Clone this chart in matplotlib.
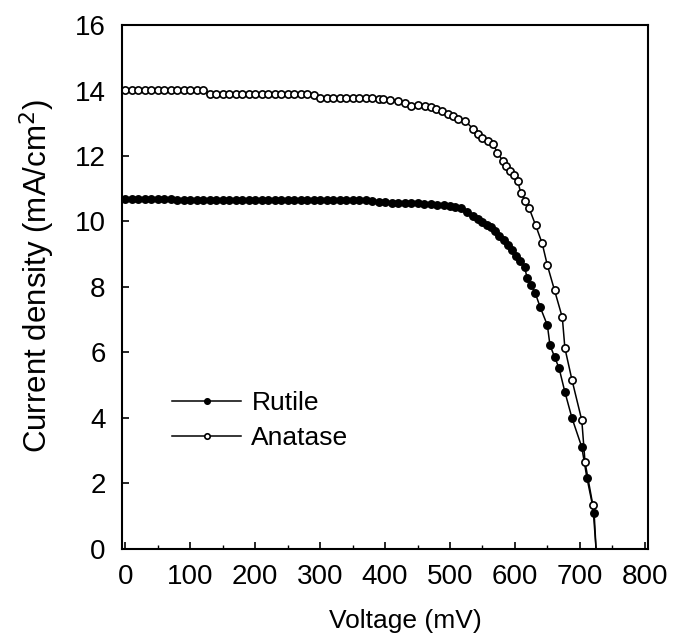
import matplotlib
matplotlib.use('Agg')
import matplotlib.pyplot as plt
from matplotlib.ticker import MultipleLocator

plt.rcParams['font.family'] = ['Liberation Sans', 'DejaVu Sans']

# J-V data (mV, mA/cm2)
rutile_v = [0, 10, 20, 30, 40, 50, 60, 70, 80, 90, 100, 110, 120, 130, 140, 150,
            160, 170, 180, 190, 200, 210, 220, 230, 240, 250, 260, 270, 280, 290,
            300, 310, 320, 330, 340, 350, 360, 370, 380, 390, 400, 410, 420, 430,
            440, 450, 460, 470, 480, 490, 500, 508, 517, 526, 535, 543, 550, 557,
            563, 570, 576, 583, 589, 595, 601, 608, 615, 619, 625, 631, 639, 650,
            654, 661, 668, 677, 688, 703, 711, 722, 725]
rutile_j = [10.68, 10.68, 10.68, 10.68, 10.68, 10.68, 10.68, 10.68, 10.67, 10.67,
            10.67, 10.67, 10.67, 10.67, 10.67, 10.67, 10.67, 10.67, 10.67, 10.67,
            10.67, 10.67, 10.67, 10.67, 10.67, 10.67, 10.67, 10.67, 10.67, 10.67,
            10.67, 10.67, 10.67, 10.67, 10.67, 10.67, 10.66, 10.66, 10.64, 10.59,
            10.58, 10.57, 10.57, 10.57, 10.56, 10.55, 10.53, 10.52, 10.50, 10.49,
            10.47, 10.45, 10.40, 10.30, 10.18, 10.08, 9.97, 9.90, 9.82, 9.70,
            9.57, 9.42, 9.27, 9.12, 8.96, 8.78, 8.60, 8.26, 8.05, 7.83, 7.38, 6.83,
            6.22, 5.87, 5.52, 4.79, 3.99, 3.11, 2.16, 1.10, 0.0]

anatase_v = [0, 10, 20, 30, 40, 50, 60, 70, 80, 90, 100, 110, 120, 130, 140, 150,
             160, 170, 180, 190, 200, 210, 220, 230, 240, 250, 260, 270, 280, 290,
             300, 310, 320, 330, 340, 350, 360, 370, 380, 390, 397, 408, 420, 430,
             440, 451, 462, 470, 478, 488, 497, 505, 512, 523, 535, 543, 550, 558,
             566, 573, 581, 587, 593, 599, 604, 609, 616, 622, 632, 642, 650, 661,
             673, 677, 688, 703, 708, 720, 725]
anatase_j = [14.03, 14.03, 14.03, 14.02, 14.03, 14.03, 14.02, 14.03, 14.03, 14.02,
             14.03, 14.03, 14.02, 13.90, 13.90, 13.90, 13.89, 13.90, 13.90, 13.89,
             13.90, 13.90, 13.89, 13.90, 13.89, 13.90, 13.89, 13.89, 13.88, 13.85,
             13.78, 13.78, 13.77, 13.78, 13.77, 13.78, 13.77, 13.76, 13.76, 13.75,
             13.74, 13.72, 13.69, 13.62, 13.54, 13.55, 13.54, 13.50, 13.44, 13.37,
             13.29, 13.22, 13.14, 13.08, 12.84, 12.68, 12.56, 12.47, 12.38, 12.10,
             11.86, 11.70, 11.55, 11.42, 11.25, 10.88, 10.64, 10.40, 9.88, 9.33,
             8.66, 7.90, 7.07, 6.13, 5.15, 3.93, 2.65, 1.34, 0.0]

fig = plt.figure(figsize=(6.75, 6.42), dpi=100)
ax = fig.add_axes([0.181, 0.145, 0.779, 0.816])

ax.plot(rutile_v, rutile_j, color='black', lw=1.1, marker='o', ms=5.4,
        mfc='black', mec='black', markevery=slice(0, -1), label='Rutile')
ax.plot(anatase_v, anatase_j, color='black', lw=1.1, marker='o', ms=5.2,
        mfc='white', mec='black', mew=1.2, markevery=slice(0, -1), label='Anatase')

ax.set_xlim(-5, 805)
ax.set_ylim(0, 16)
ax.xaxis.set_major_locator(MultipleLocator(100))
ax.xaxis.set_minor_locator(MultipleLocator(50))
ax.yaxis.set_major_locator(MultipleLocator(2))
ax.tick_params(which='both', direction='in', top=False, right=False, labelsize=20)
ax.tick_params(axis='x', pad=11)
ax.tick_params(axis='y', pad=12)
ax.tick_params(which='major', length=5, width=1.2)
ax.tick_params(which='minor', length=3, width=1.0)
for s in ax.spines.values():
    s.set_linewidth(1.5)

ax.set_xlabel('Voltage (mV)', fontsize=19)
ax.xaxis.set_label_coords(0.538, -0.115)
ax.set_ylabel('Current density (mA/cm$^2$)', fontsize=22.5)
ax.yaxis.set_label_coords(-0.124, 0.52)

ax.legend(loc='center left', bbox_to_anchor=(0.05, 0.245), frameon=False,
          fontsize=19, handlelength=2.6, handletextpad=0.4, labelspacing=0.4,
          markerscale=0.75)

fig.savefig('out.png', dpi=100)
